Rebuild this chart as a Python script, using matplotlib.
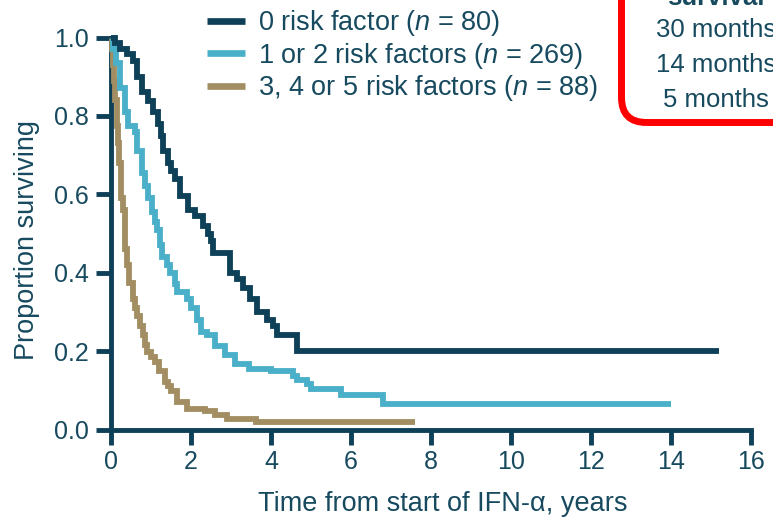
import matplotlib
matplotlib.use("Agg")
import matplotlib.pyplot as plt
from matplotlib.lines import Line2D
from matplotlib.patches import FancyBboxPatch
from matplotlib.transforms import IdentityTransform

plt.rcParams["font.family"] = ["Liberation Sans", "DejaVu Sans"]
plt.rcParams["mathtext.fontset"] = "custom"
plt.rcParams["mathtext.it"] = "Liberation Sans:italic"
plt.rcParams["mathtext.rm"] = "Liberation Sans"

# Kaplan-Meier step data: event times (years) and survival proportion after each step
t_zero = [0, 0.1, 0.22, 0.4, 0.55, 0.65, 0.78, 0.92, 1.05, 1.18, 1.25, 1.3, 1.42, 1.5, 1.6,
          1.72, 1.92, 2.1, 2.3, 2.42, 2.5, 2.56, 2.97, 3.15, 3.3, 3.48, 3.65, 3.9, 4.05, 4.15,
          4.64, 15.2]
s_zero = [1.0, 0.985, 0.97, 0.957, 0.94, 0.90, 0.86, 0.837, 0.81, 0.78, 0.75, 0.71, 0.68, 0.66, 0.64,
          0.595, 0.56, 0.545, 0.52, 0.50, 0.48, 0.45, 0.40, 0.385, 0.36, 0.333, 0.30, 0.28, 0.265, 0.24,
          0.20, 0.20]

t_mid = [0, 0.05, 0.12, 0.22, 0.35, 0.42, 0.6, 0.65, 0.78, 0.85, 0.93, 1.02, 1.1, 1.15, 1.22,
         1.28, 1.4, 1.48, 1.6, 1.65, 1.9, 2.0, 2.15, 2.25, 2.4, 2.6, 2.85, 3.1, 3.46, 4.0,
         4.54, 4.66, 4.89, 5.01, 5.76, 6.79, 14.0]
s_mid = [1.0, 0.97, 0.935, 0.87, 0.81, 0.775, 0.76, 0.71, 0.655, 0.62, 0.59, 0.555, 0.53, 0.51, 0.47,
         0.44, 0.42, 0.40, 0.37, 0.35, 0.333, 0.31, 0.28, 0.25, 0.24, 0.214, 0.19, 0.168, 0.155, 0.15,
         0.137, 0.127, 0.117, 0.104, 0.087, 0.066, 0.066]

t_high = [0, 0.02, 0.04, 0.07, 0.10, 0.14, 0.18, 0.21, 0.24, 0.26, 0.30, 0.34, 0.36, 0.39, 0.44,
          0.54, 0.60, 0.66, 0.72, 0.79, 0.85, 0.91, 1.0, 1.09, 1.21, 1.34, 1.42, 1.51, 1.66, 1.91,
          2.34, 2.59, 2.91, 3.63, 7.6]
s_high = [1.0, 0.97, 0.93, 0.89, 0.84, 0.775, 0.73, 0.68, 0.64, 0.59, 0.56, 0.53, 0.46, 0.42, 0.375,
          0.333, 0.31, 0.29, 0.265, 0.24, 0.215, 0.198, 0.185, 0.173, 0.148, 0.122, 0.11, 0.097, 0.071, 0.053,
          0.046, 0.036, 0.028, 0.018, 0.018]

group_labels = ["0 risk factor ($n$ = 80)",
                "1 or 2 risk factors ($n$ = 269)",
                "3, 4 or 5 risk factors ($n$ = 88)"]
median_labels = ["30 months", "14 months", "5 months"]

x_ticks = [0, 2, 4, 6, 8, 10, 12, 14, 16]
y_ticks = [0.0, 0.2, 0.4, 0.6, 0.8, 1.0]

NAVY = "#0e4058"
TEXT = "#174a5f"
BLUE = "#4aafc8"
TAN = "#a28e62"
RED = "#ff0000"

W, H = 773, 519
fig = plt.figure(figsize=(W / 100, H / 100), dpi=100)
ax = fig.add_axes([111 / W, 1 - 429.5 / H, 640 / W, 392 / H])

lw = 4.2
for t, s, c in [(t_high, s_high, TAN), (t_mid, s_mid, BLUE), (t_zero, s_zero, NAVY)]:
    ax.step(t, s, where="post", color=c, lw=lw, clip_on=False, solid_joinstyle="miter",
            solid_capstyle="butt", zorder=3)

ax.set_xlim(0, 16)
ax.set_ylim(0, 1)
ax.set_xticks(x_ticks)
ax.set_xticklabels([str(v) for v in x_ticks])
ax.set_yticks(y_ticks)
ax.set_yticklabels([f"{v:.1f}" for v in y_ticks])

for side in ["top", "right"]:
    ax.spines[side].set_visible(False)
for side in ["left", "bottom"]:
    ax.spines[side].set_linewidth(3.5)
    ax.spines[side].set_color(NAVY)
    ax.spines[side].set_capstyle("projecting")
ax.tick_params(axis="y", length=10.5, width=3.5, color=NAVY, labelcolor=TEXT,
               labelsize=18, pad=5.5)
ax.tick_params(axis="x", length=11, width=3.5, color=NAVY, labelcolor=TEXT,
               labelsize=18, pad=4)

ax.set_xlabel("Time from start of IFN-α, years", fontsize=19.5, color=TEXT)
ax.set_ylabel("Proportion surviving", fontsize=19.5, color=TEXT)
ax.xaxis.label.set_va("baseline")
ax.xaxis.set_label_coords((443 - 111) / 640, (429.5 - 511) / 392)
ax.yaxis.label.set_va("baseline")
ax.yaxis.set_label_coords((34 - 111) / 640, (429.5 - 240) / 392)

handles = [Line2D([], [], color=c, lw=4.8, solid_capstyle="butt") for c in (NAVY, BLUE, TAN)]
leg = ax.legend(handles, group_labels, loc="upper left",
                bbox_to_anchor=(207 / W, 1 - 8 / H), bbox_transform=fig.transFigure,
                frameon=False, fontsize=19.5, handlelength=1.4, handletextpad=0.48,
                labelspacing=0.1, borderpad=0, borderaxespad=0)
for txt in leg.get_texts():
    txt.set_color(TEXT)

# Median survival panel (extends past the figure edge)
box = FancyBboxPatch((621.5, H - 122.5), 400, 300,
                     boxstyle="round,pad=0,rounding_size=25",
                     transform=IdentityTransform(), fill=False, edgecolor=RED,
                     lw=5, zorder=5)
fig.add_artist(box)

fig.text(716 / W, 1 - 5 / H, "Median\nsurvival", ha="center", va="baseline",
         fontsize=18.5, fontweight="bold", color=TEXT, linespacing=1.1)
for i, lab in enumerate(median_labels):
    fig.text(716 / W, 1 - (36.7 + 35 * i) / H, lab, ha="center", va="baseline",
             fontsize=18.5, color=TEXT)

fig.savefig("out.png", dpi=100)
